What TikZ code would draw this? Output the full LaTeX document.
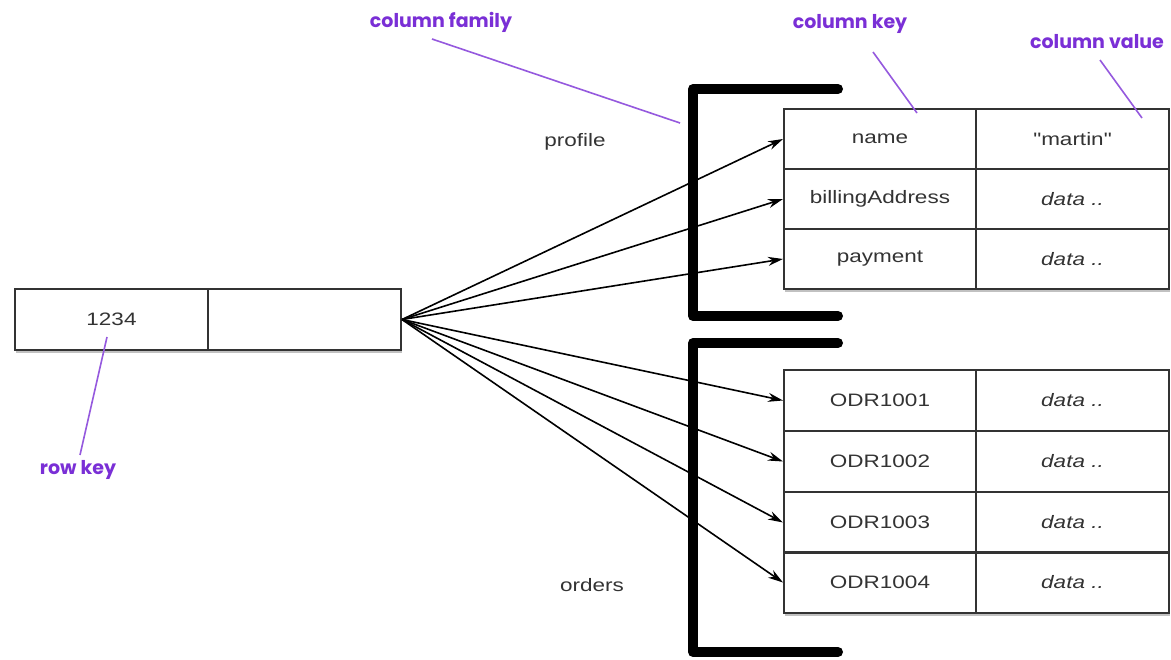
\documentclass[tikz,border=0pt]{standalone}
\usepackage{fontspec}
\usetikzlibrary{shadows,arrows.meta}
\newfontfamily\bodyf{Liberation Sans}[FakeStretch=1.25]
\newfontfamily\handf{Poppins}
\definecolor{note}{HTML}{7A2FD6}
\definecolor{txt}{HTML}{333333}
\tikzset{
  cell/.style={draw=black!80, line width=2pt, minimum height=60pt, inner sep=0pt, anchor=north west, font=\bodyf\fontsize{18}{20}\selectfont, text=txt},
  kcell/.style={cell, minimum width=192pt},
  vcell/.style={cell, minimum width=193pt, font=\bodyf\itshape\fontsize{18}{20}\selectfont},
  ocell/.style={minimum height=61pt},
  tbl/.style={fill=white, drop shadow={shadow xshift=2pt, shadow yshift=-4pt, opacity=0.4, fill=black!60}},
  bracket/.style={line width=10pt, line cap=round, line join=round},
  arr/.style={line width=1.6pt, -{Stealth[length=15pt,width=9pt]}},
  notetext/.style={font=\handf\bfseries\fontsize{19}{21}\selectfont, text=note},
  noteline/.style={draw=note!80, line width=1.6pt},
  fam/.style={font=\bodyf\fontsize{18}{20}\selectfont, text=txt}
}
\begin{document}
\begin{tikzpicture}[x=1pt,y=-1pt]
\useasboundingbox[fill=white] (0,0) rectangle (1171,660);

% row key box
\path[tbl] (14,288) rectangle (400,349);
\node[cell, minimum width=193pt, minimum height=61pt] (rkey) at (14,288) {1234};
\node[cell, minimum width=193pt, minimum height=61pt] (rval) at (207,288) {};

% profile table
\path[tbl] (783,108) rectangle (1168,288);
\node[kcell] (p1) at (783,108) {name};
\node[vcell] (v1) at (975,108) {\upshape "martin"};
\node[kcell] (p2) at (783,168) {billingAddress};
\node[vcell] (v2) at (975,168) {data ..};
\node[kcell] (p3) at (783,228) {payment};
\node[vcell] (v3) at (975,228) {data ..};

% orders table
\path[tbl] (783,369) rectangle (1168,612);
\node[kcell, ocell] (o1) at (783,369) {ODR1001};
\node[vcell, ocell] (w1) at (975,369) {data ..};
\node[kcell, ocell] (o2) at (783,430) {ODR1002};
\node[vcell, ocell] (w2) at (975,430) {data ..};
\node[kcell, ocell] (o3) at (783,491) {ODR1003};
\node[vcell, ocell] (w3) at (975,491) {data ..};
\node[kcell, ocell] (o4) at (783,551) {ODR1004};
\node[vcell, ocell] (w4) at (975,551) {data ..};

% brackets
\draw[bracket] (838,89) -- (693,89) -- (693,316) -- (838,316);
\draw[bracket] (838,343) -- (693,343) -- (693,652) -- (838,652);

% family labels
\node[fam] (prof) at (575,142) {profile};
\node[fam] (ord) at (592,585) {orders};

% arrows
\foreach \t in {p1,p2,p3,o1,o2,o3,o4}
  \draw[arr] (rval.east) -- (\t.west);

% annotations
\node[notetext] (nfam) at (441,22) {column family};
\node[notetext] (nkey) at (850,24) {column key};
\node[notetext] (nval) at (1097,42) {column value};
\node[notetext] (nrow) at (78,470) {row key};

\coordinate (efam) at (680,123);
\coordinate (ekey) at (917,113);
\coordinate (eval) at (1142,118);
\coordinate (erow) at (107,337);
\coordinate (sfam) at (432,39);
\coordinate (skey) at (873,52);
\coordinate (sval) at (1100,60);
\coordinate (srow) at (80,455);
\draw[noteline] (sfam) -- (efam);
\draw[noteline] (skey) -- (ekey);
\draw[noteline] (sval) -- (eval);
\draw[noteline] (srow) -- (erow);
\end{tikzpicture}
\end{document}
